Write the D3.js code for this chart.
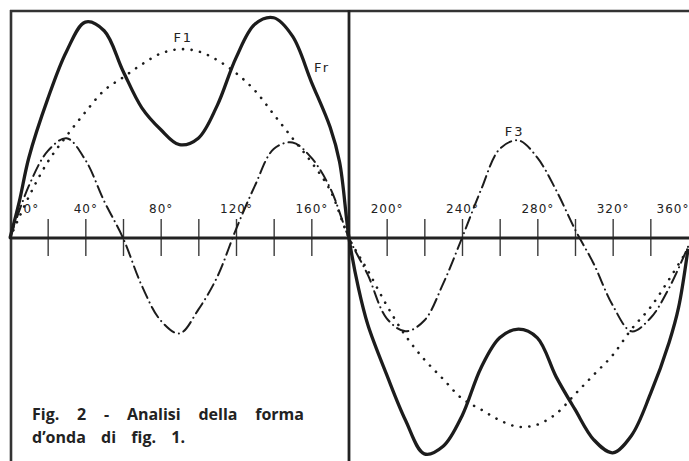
<!DOCTYPE html>
<html>
<head>
<meta charset="utf-8">
<script src="https://cdn.jsdelivr.net/npm/d3@7"></script>
<style>
  html, body { margin: 0; padding: 0; background: #ffffff; }
  svg { display: block; }
</style>
</head>
<body>
<svg id="chart" width="689" height="461"></svg>
<script>
// ---------- DATA ----------
// angle in degrees, amplitude in relative units (resultant peak ~ 100)
const f1Degrees = [0,10,20,30,40,50,60,70,80,90,100,110,120,130,140,150,160,170,180,
                   190,200,210,220,230,240,250,260,270,280,290,300,310,320,330,340,350,360];
const f1Values  = [0,19,35,47,58,68,74,80,85,87,86,82,76,68,57,46,35,22,0,
                   -15,-31,-45,-56,-65,-74,-79,-84,-87,-86,-81,-72,-63,-54,-42,-32,-19,-5];

const f3Degrees = [0,10,20,30,40,50,60,70,80,90,100,110,120,130,140,150,160,170,180,
                   190,200,210,220,230,240,250,260,270,280,290,300,310,320,330,340,350,360];
const f3Values  = [0,24,40,46,36,17,0,-22,-38,-44,-33,-18,4,24,41,44,37,23,0,
                   -17,-37,-43,-38,-21,0,22,41,45,37,22,4,-12,-31,-43,-37,-23,-4];

const frDegrees = [0,5,10,20,30,40,50,60,70,80,90,100,110,120,130,140,150,160,170,175,180,
                   185,190,200,210,220,230,240,250,260,270,280,290,300,310,320,330,340,350,355,360];
const frValues  = [0,17,37,64,86,99.5,95.5,77,60,50,43,46,61,83,98.5,101.5,93,72,51,35,0,
                   -23,-40,-63,-84,-99.5,-96,-82,-60,-46,-42,-46,-64,-79,-93,-99,-91,-72,-48,-32,-5];

const tickDegrees  = [20,40,60,80,100,120,140,160,200,220,240,260,280,300,320,340];
const labelDegrees = [0,40,80,120,160,200,240,280,320,360];
const tickLabels   = ["0°","40°","80°","120°","160°","200°","240°","280°","320°","360°"];

const seriesNames  = ["F1","Fr","F3"];
const seriesLabelDeg = [92,165.7,268];
const seriesLabelVal = [90.3,76.5,47];

const captionLines = [
  ["Fig.","2","-","Analisi","della","forma"],
  ["d’onda","di","fig.","1."]
];

// ---------- LAYOUT ----------
const W = 689, H = 461;
const svg = d3.select("#chart");
const x = d3.scaleLinear().domain([0,360]).range([10,688]);
const y = d3.scaleLinear().domain([-100,100]).range([455,21]);
const ink = "#1c1c1c";

svg.append("rect").attr("width",W).attr("height",H).attr("fill","#ffffff");

// frame: top rule, left rule, centre rule
svg.append("line").attr("x1",10).attr("x2",W).attr("y1",11).attr("y2",11)
   .attr("stroke","#333").attr("stroke-width",2.3);
svg.append("line").attr("x1",11).attr("x2",11).attr("y1",10).attr("y2",H)
   .attr("stroke","#333").attr("stroke-width",2.6);
svg.append("line").attr("x1",x(180)).attr("x2",x(180)).attr("y1",10).attr("y2",H)
   .attr("stroke","#222").attr("stroke-width",2.8);

// tick marks crossing the axis
const tickAxis = d3.axisBottom(x).tickValues(tickDegrees).tickSize(18).tickFormat("");
const tg = svg.append("g").attr("transform",`translate(0,${y(0)})`).call(tickAxis);
tg.select(".domain").remove();
tg.selectAll(".tick line").attr("y1",-19).attr("y2",18)
  .attr("stroke","#3a3a3a").attr("stroke-width",1.4);

// main horizontal axis
svg.append("line").attr("x1",10).attr("x2",W).attr("y1",y(0)).attr("y2",y(0))
   .attr("stroke","#222").attr("stroke-width",3);

// tick labels
const labelAxis = d3.axisTop(x).tickValues(labelDegrees).tickSize(0).tickPadding(25)
  .tickFormat((d,i)=>tickLabels[i]);
const lg = svg.append("g").attr("transform",`translate(0,${y(0)})`).call(labelAxis);
lg.select(".domain").remove();
lg.selectAll(".tick text")
  .attr("font-family","'DejaVu Sans', sans-serif")
  .attr("font-size",12).attr("letter-spacing","1px").attr("fill","#222")
  .each(function(d){
    const t = d3.select(this);
    if (d === 0) t.attr("text-anchor","start").attr("x",13);
    if (d === 360) t.attr("text-anchor","end").attr("x",1);
  });

// curves
const line = d3.line().x(d=>x(d[0])).y(d=>y(d[1])).curve(d3.curveCatmullRom.alpha(0.5));
const zip = (a,b)=>a.map((v,i)=>[v,b[i]]);

svg.append("path").datum(zip(f3Degrees,f3Values)).attr("d",line)
   .attr("fill","none").attr("stroke",ink).attr("stroke-width",2)
   .attr("stroke-linecap","round").attr("stroke-dasharray","12 5 0.1 5");

svg.append("path").datum(zip(f1Degrees,f1Values)).attr("d",line)
   .attr("fill","none").attr("stroke",ink).attr("stroke-width",2.6)
   .attr("stroke-linecap","round").attr("stroke-dasharray","0.1 8.5");

svg.append("path").datum(zip(frDegrees,frValues)).attr("d",line)
   .attr("fill","none").attr("stroke",ink).attr("stroke-width",3.3)
   .attr("stroke-linejoin","round");

// series labels
svg.selectAll("text.series").data(seriesNames).enter().append("text")
   .attr("class","series")
   .attr("x",(d,i)=>x(seriesLabelDeg[i])).attr("y",(d,i)=>y(seriesLabelVal[i]))
   .attr("text-anchor","middle")
   .attr("font-family","'DejaVu Sans', sans-serif").attr("font-size",13)
   .attr("letter-spacing","2px").attr("fill","#222")
   .text(d=>d);

// caption (justified lines)
const capLeft = 32, capRights = [304,185], capBase = [420,443];
captionLines.forEach((words,li)=>{
  const g = svg.append("g");
  const nodes = words.map(w => g.append("text")
      .attr("font-family","'Open Sans', sans-serif").attr("font-weight",700)
      .attr("font-size",16).attr("fill","#222").attr("y",capBase[li]).text(w));
  const widths = nodes.map(n=>n.node().getComputedTextLength());
  const total = d3.sum(widths);
  const gap = (capRights[li]-capLeft-total)/(words.length-1);
  let cx = capLeft;
  nodes.forEach((n,i)=>{ n.attr("x",cx); cx += widths[i]+gap; });
});
</script>
</body>
</html>
